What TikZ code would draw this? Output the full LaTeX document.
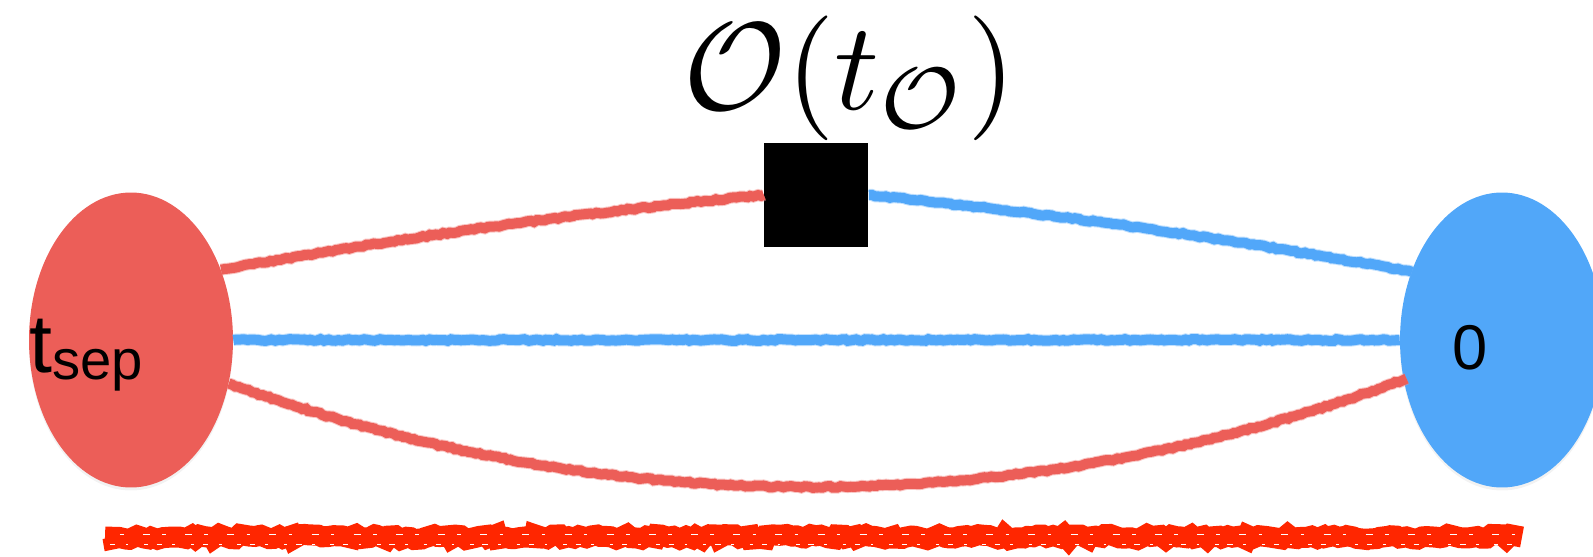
\documentclass[tikz,border=0pt]{standalone}
\usepackage{fontspec}
\setsansfont{Liberation Sans}
\usetikzlibrary{shapes.geometric,decorations.pathmorphing,shadows}
\definecolor{sepred}{RGB}{236,94,88}
\definecolor{srcblue}{RGB}{81,167,249}
\definecolor{barred}{RGB}{255,38,0}

\begin{document}
\begin{tikzpicture}[x=0.02cm, y=-0.02cm,
    blob/.style={ellipse, minimum width=4.08cm, minimum height=5.9cm, inner sep=0pt,
      drop shadow={opacity=0.1, shadow xshift=0cm, shadow yshift=-0.06cm}},
    chalk/.style={draw=#1, line width=0.2cm, decorate,
      decoration={random steps, segment length=2pt, amplitude=0.5pt},
      preaction={draw=#1!70, line width=0.24cm, opacity=0.5}},
    every node/.style={font=\sffamily}]
  \pgfmathsetseed{11}
  \useasboundingbox (0,0) rectangle (1593,557);

  % sink and source
  \node[blob, fill=sepred] (sink) at (131,340) {};
  \node[blob, fill=srcblue] (source) at (1502,340) {};
  \node[anchor=base west, inner sep=0pt] (tsep) at (29,373)
    {\fontsize{47}{47}\selectfont t\raisebox{-0.14cm}{\fontsize{32}{32}\selectfont sep}};
  \node[anchor=base, inner sep=0pt] (zero) at (1470,369) {\fontsize{36}{36}\selectfont 0};

  % operator insertion
  \node[fill=black, minimum size=2.1cm, inner sep=0pt] (op) at (816,195) {};
  \node[anchor=base, inner sep=0pt, scale=7.1] (oplabel) at (850,110) {$\mathcal{O}(t_{\mathcal{O}})$};

  % quark lines
  \draw[chalk=sepred] (sink.38) to[bend left=2] (op.west);
  \draw[chalk=srcblue] (op.east) to[bend left=2] (source.143);
  \draw[chalk=srcblue] (sink.east) -- (source.west);
  \draw[chalk=sepred] (sink.-24) .. controls +(384,139) and +(-384,142) .. (source.202);

  % bar underneath
  \coordinate (barL) at (105,537);
  \coordinate (barR) at (1522,537);
  \draw[barred, line width=0.42cm, decorate,
    decoration={random steps, segment length=3pt, amplitude=1.5pt}] (barL) -- (barR);
  \draw[white, line width=0.04cm, dash pattern=on 3pt off 6pt on 1.5pt off 9pt on 2pt off 5pt]
    ([xshift=0.1cm, yshift=-0.15cm]barL) -- ([xshift=-0.1cm, yshift=-0.15cm]barR);
  \draw[white, line width=0.03cm, dash pattern=on 2pt off 11pt on 4pt off 7pt]
    ([xshift=0.3cm, yshift=0.05cm]barL) -- ([xshift=-0.1cm, yshift=0.05cm]barR);
\end{tikzpicture}
\end{document}
